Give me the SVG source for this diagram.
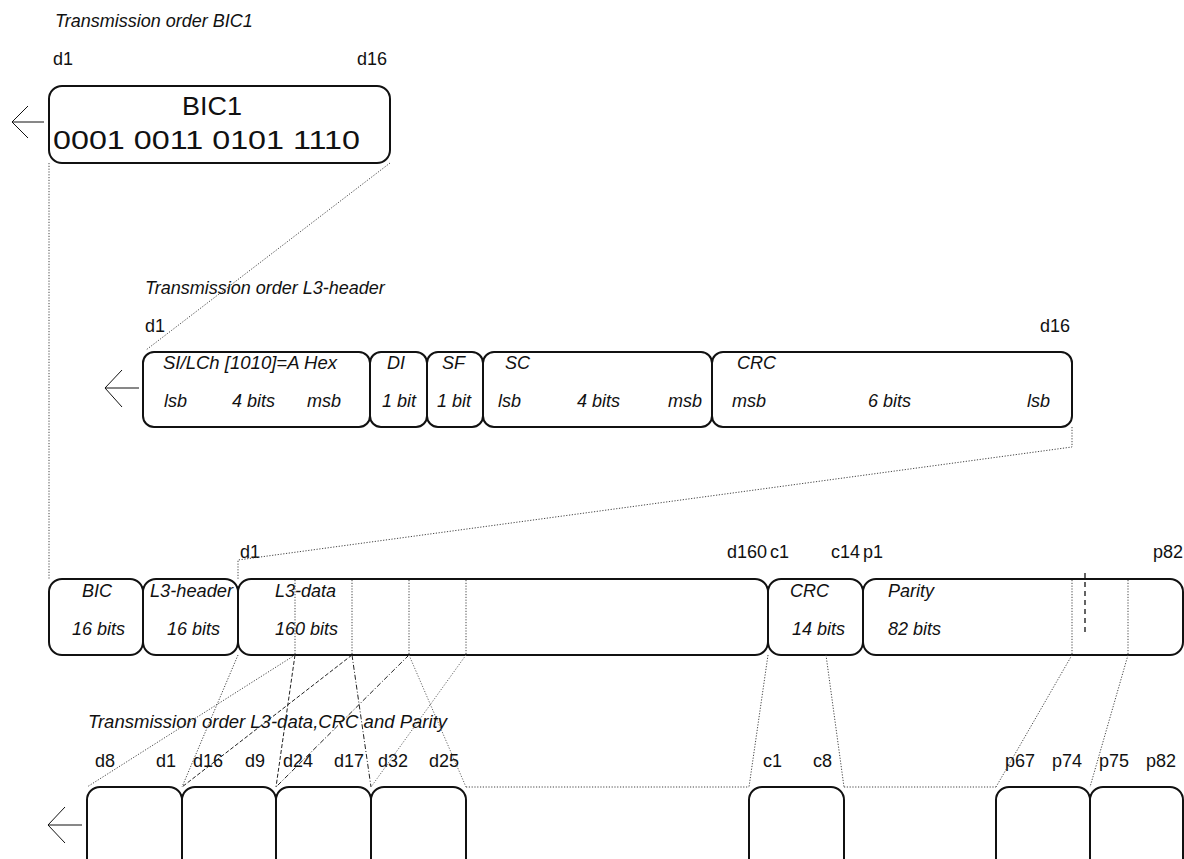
<svg xmlns="http://www.w3.org/2000/svg" width="1184" height="859" viewBox="0 0 1184 859">
<style>
text{font-family:"Liberation Sans",Arial,sans-serif;font-size:18px;fill:#111}
.i{font-style:italic}
.big{font-size:25px}
.box{fill:none;stroke:#111;stroke-width:2}
.arr{fill:none;stroke:#111;stroke-width:1}
.dot{fill:none;stroke:#444;stroke-width:1;stroke-dasharray:1.2 1.6}
.dash{fill:none;stroke:#222;stroke-width:1;stroke-dasharray:4 2}
.dd{fill:none;stroke:#222;stroke-width:1;stroke-dasharray:5 2 1 2}
.dotg{fill:none;stroke:#666;stroke-width:1;stroke-dasharray:1.2 1.6}
.vdash{fill:none;stroke:#111;stroke-width:1.3;stroke-dasharray:5 4}
</style>
<rect width="1184" height="859" fill="#fff"/>

<g id="arrow-bic1"><polyline class="arr" points="28,106 12,122 28,138"/><line class="arr" x1="12" y1="122" x2="44" y2="122"/></g>
<g id="arrow-l3h"><polyline class="arr" points="122,370 105,388 122,407"/><line class="arr" x1="105" y1="388" x2="139" y2="388"/></g>
<g id="arrow-bottom"><polyline class="arr" points="65,807 48,825 65,843"/><line class="arr" x1="48" y1="825" x2="82" y2="825"/></g>

<g id="title-bic1"><text class="i" x="55" y="27">Transmission order BIC1</text>
<text x="53" y="65">d1</text><text x="357" y="65">d16</text></g>
<g id="bic1">
<rect class="box" x="49" y="86" width="341" height="77" rx="13"/>
<text class="big" x="182" y="115" textLength="60" lengthAdjust="spacingAndGlyphs">BIC1</text>
<text class="big" x="53" y="149" textLength="307" lengthAdjust="spacingAndGlyphs">0001 0011 0101 1110</text>
</g>

<g id="title-l3h"><text class="i" x="145" y="294">Transmission order L3-header</text>
<text x="145" y="332">d1</text><text x="1040" y="332">d16</text></g>
<g id="l3h-si">
<rect class="box" x="143" y="352" width="227" height="75" rx="11"/>
<text class="i" x="163" y="369" textLength="174" lengthAdjust="spacingAndGlyphs">SI/LCh [1010]=A Hex</text>
<text class="i" x="164" y="407">lsb</text><text class="i" x="232" y="407">4 bits</text><text class="i" x="307" y="407">msb</text>
</g>
<g id="l3h-di">
<rect class="box" x="370" y="352" width="57" height="75" rx="11"/>
<text class="i" x="387" y="369">DI</text><text class="i" x="382" y="407">1 bit</text>
</g>
<g id="l3h-sf">
<rect class="box" x="427" y="352" width="56" height="75" rx="11"/>
<text class="i" x="442" y="369">SF</text><text class="i" x="437" y="407">1 bit</text>
</g>
<g id="l3h-sc">
<rect class="box" x="483" y="352" width="229" height="75" rx="11"/>
<text class="i" x="505" y="369">SC</text>
<text class="i" x="498" y="407">lsb</text><text class="i" x="577" y="407">4 bits</text><text class="i" x="668" y="407">msb</text>
</g>
<g id="l3h-crc">
<rect class="box" x="712" y="352" width="360" height="75" rx="11"/>
<text class="i" x="737" y="369">CRC</text>
<text class="i" x="732" y="407">msb</text><text class="i" x="868" y="407">6 bits</text><text class="i" x="1027" y="407">lsb</text>
</g>

<g id="mid-labels">
<text x="240" y="558">d1</text><text x="727" y="558">d160</text><text x="770" y="558">c1</text>
<text x="831" y="558">c14</text><text x="863" y="558">p1</text><text x="1153" y="558">p82</text>
</g>
<g id="mid-bic">
<rect class="box" x="49" y="579" width="94" height="76" rx="13"/>
<text class="i" x="82" y="597">BIC</text><text class="i" x="72" y="635">16 bits</text>
</g>
<g id="mid-l3h">
<rect class="box" x="143" y="579" width="95" height="76" rx="13"/>
<text class="i" x="150" y="597" textLength="83" lengthAdjust="spacingAndGlyphs">L3-header</text><text class="i" x="167" y="635">16 bits</text>
</g>
<g id="mid-l3d">
<rect class="box" x="238" y="579" width="530" height="76" rx="13"/>
<text class="i" x="275" y="597">L3-data</text><text class="i" x="275" y="635">160 bits</text>
</g>
<g id="mid-crc">
<rect class="box" x="768" y="579" width="95" height="76" rx="13"/>
<text class="i" x="790" y="597">CRC</text><text class="i" x="792" y="635">14 bits</text>
</g>
<g id="mid-parity">
<rect class="box" x="863" y="579" width="320" height="76" rx="13"/>
<text class="i" x="888" y="597">Parity</text><text class="i" x="888" y="635">82 bits</text>
</g>

<g id="title-bottom"><text class="i" x="88" y="728" textLength="359" lengthAdjust="spacingAndGlyphs">Transmission order L3-data,CRC and Parity</text></g>
<g id="bottom-labels">
<text x="95" y="767">d8</text><text x="156" y="767">d1</text><text x="193" y="767">d16</text><text x="245" y="767">d9</text>
<text x="283" y="767">d24</text><text x="334" y="767">d17</text><text x="378" y="767">d32</text><text x="429" y="767">d25</text>
<text x="763" y="767">c1</text><text x="813" y="767">c8</text>
<text x="1005" y="767">p67</text><text x="1052" y="767">p74</text><text x="1099" y="767">p75</text><text x="1146" y="767">p82</text>
</g>
<g id="b1"><rect class="box" x="87" y="787" width="95" height="100" rx="13"/></g>
<g id="b2"><rect class="box" x="182" y="787" width="94" height="100" rx="13"/></g>
<g id="b3"><rect class="box" x="276" y="787" width="95" height="100" rx="13"/></g>
<g id="b4"><rect class="box" x="371" y="787" width="95" height="100" rx="13"/></g>
<g id="b-crc"><rect class="box" x="749" y="787" width="95" height="100" rx="13"/></g>
<g id="b-p1"><rect class="box" x="996" y="787" width="94" height="100" rx="13"/></g>
<g id="b-p2"><rect class="box" x="1090" y="787" width="93" height="100" rx="13"/></g>

<g id="connectors">
<line class="dot" x1="49" y1="163" x2="49" y2="579"/>
<line class="dot" x1="390" y1="163" x2="146" y2="350"/>
<polyline class="dot" points="1072,427 1072,447 238,560 238,579"/>
<line class="dot" x1="295" y1="580" x2="295" y2="655"/>
<line class="dot" x1="352" y1="580" x2="352" y2="655"/>
<line class="dot" x1="409" y1="580" x2="409" y2="655"/>
<line class="dot" x1="466" y1="580" x2="466" y2="655"/>
<line class="dot" x1="1072" y1="580" x2="1072" y2="655"/>
<line class="dot" x1="1128" y1="580" x2="1128" y2="655"/>
<line class="vdash" x1="1085" y1="573" x2="1085" y2="636"/>
<line class="dot" x1="238" y1="655" x2="182" y2="787"/>
<line class="dot" x1="295" y1="655" x2="87" y2="787"/>
<line class="dash" x1="295" y1="655" x2="276" y2="787"/>
<line class="dash" x1="352" y1="655" x2="182" y2="787"/>
<line class="dd" x1="352" y1="655" x2="371" y2="787"/>
<line class="dd" x1="409" y1="655" x2="276" y2="787"/>
<line class="dotg" x1="409" y1="655" x2="466" y2="787"/>
<line class="dotg" x1="466" y1="655" x2="371" y2="787"/>
<line class="dot" x1="768" y1="655" x2="749" y2="787"/>
<line class="dot" x1="826" y1="655" x2="844" y2="787"/>
<line class="dot" x1="1072" y1="655" x2="996" y2="787"/>
<line class="dot" x1="1128" y1="655" x2="1090" y2="787"/>
<line class="dot" x1="466" y1="787" x2="749" y2="787"/>
<line class="dot" x1="844" y1="787" x2="996" y2="787"/>
</g>
</svg>
